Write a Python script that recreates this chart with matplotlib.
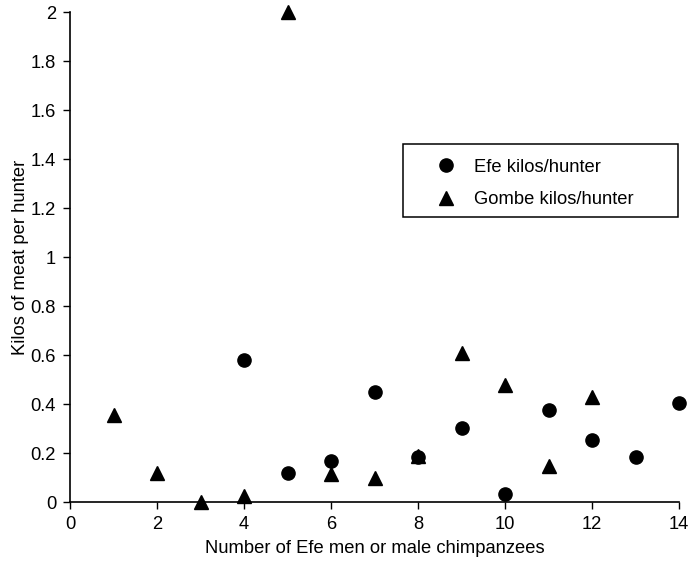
import matplotlib.pyplot as plt
from matplotlib.patches import Rectangle

plt.rcParams['font.family'] = ['Liberation Sans', 'DejaVu Sans']
plt.rcParams['font.size'] = 13.2

# hunters per party
efe_x = [4, 5, 6, 7, 8, 9, 10, 11, 12, 13, 14]
efe_kg = [0.58, 0.12, 0.17, 0.45, 0.185, 0.305, 0.035, 0.375, 0.255, 0.185, 0.405]

gombe_x = [1, 2, 3, 4, 5, 6, 7, 8, 9, 10, 11, 12]
gombe_kg = [0.355, 0.12, 0.0, 0.025, 2.0, 0.115, 0.10, 0.19, 0.61, 0.48, 0.148, 0.43]

x_ticks = [0, 2, 4, 6, 8, 10, 12, 14]
y_ticks = [0, 0.2, 0.4, 0.6, 0.8, 1, 1.2, 1.4, 1.6, 1.8, 2]
y_tick_labels = ['0', '0.2', '0.4', '0.6', '0.8', '1', '1.2', '1.4', '1.6', '1.8', '2']

fig = plt.figure(figsize=(6.91, 5.64), dpi=100)
ax = fig.add_axes([70 / 691, 1 - 502.3 / 564, 609 / 691, 490.1 / 564])

ax.plot(efe_x, efe_kg, linestyle='none', marker='o', markersize=9.5,
        color='black', clip_on=False, label='Efe kilos/hunter')
ax.plot(gombe_x, gombe_kg, linestyle='none', marker='^', markersize=10.5,
        color='black', clip_on=False, label='Gombe kilos/hunter')

ax.set_xlim(0, 14)
ax.set_ylim(0, 2)
ax.set_xticks(x_ticks)
ax.set_yticks(y_ticks)
ax.set_yticklabels(y_tick_labels)

for side in ['top', 'right']:
    ax.spines[side].set_visible(False)
for side in ['left', 'bottom']:
    ax.spines[side].set_linewidth(1.2)
ax.tick_params(direction='out', length=5, width=1, pad=5, labelsize=13.2)

ax.set_xlabel('Number of Efe men or male chimpanzees', fontsize=13.2, labelpad=5)
ax.set_ylabel('Kilos of meat per hunter', fontsize=13.2, labelpad=1)

# legend text without frame, boxed by a plain rectangle
ax.legend(loc='center', bbox_to_anchor=(535 / 691, 1 - 183.5 / 564),
          bbox_transform=fig.transFigure, frameon=False, numpoints=1,
          handlelength=1.0, handletextpad=1.0, labelspacing=0.85,
          fontsize=13.2)
fig.patches.append(Rectangle((402.7 / 691, 1 - 216.7 / 564), 275 / 691, 72.7 / 564,
                             transform=fig.transFigure, fill=False,
                             edgecolor='black', linewidth=1.1))

fig.savefig('out.png', dpi=100)
